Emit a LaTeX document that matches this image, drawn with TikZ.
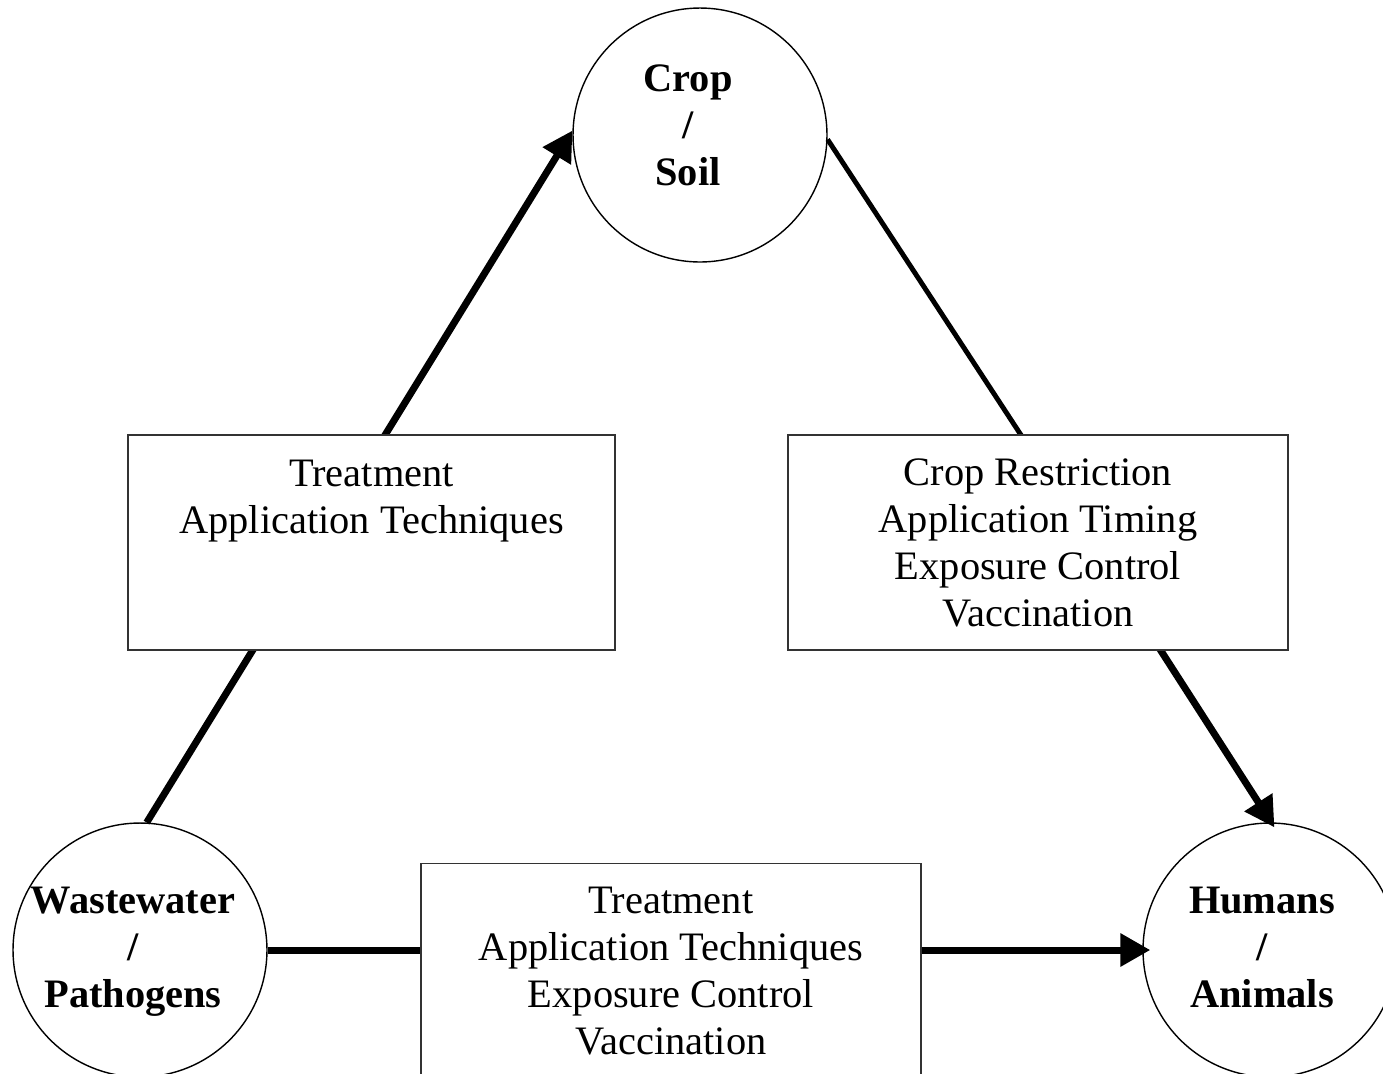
\documentclass[tikz,border=0pt]{standalone}
\usepackage{fontspec}
\setmainfont{Liberation Serif}
\usepackage{tikz}
\usetikzlibrary{shapes, arrows.meta, positioning, calc}

\tikzset{
  circ/.style={draw, circle, line width=0.8pt, minimum size=5.08cm, inner sep=0pt},
  ctext/.style={align=center, inner sep=0pt, font=\fontsize{23}{26.75}\selectfont\bfseries},
  ctrl/.style={draw=black!80, fill=white, line width=1pt, minimum width=10cm, minimum height=4.3cm, align=center, font=\fontsize{23}{26.75}\selectfont},
  flow/.style={line width=4pt, -{Triangle[length=17pt,width=18pt]}},
}

\begin{document}
\begin{tikzpicture}[x=0.02cm, y=-0.02cm]
  \useasboundingbox (0,0) rectangle (1383,1073);
  \clip (0,0) rectangle (1383,1073);

  % The three corners
  \node[circ, label={[ctext, xshift=-0.24cm, yshift=0.2cm]center:{Crop\\/\\Soil}}] (crop) at (700,135) {};
  \node[circ, label={[ctext, xshift=-0.14cm, yshift=-0.04cm]center:{Wastewater\\/\\Pathogens}}] (waste) at (140,950) {};
  \node[circ, label={[ctext, xshift=-0.16cm, yshift=0.06cm]center:{Humans\\/\\Animals}}] (humans) at (1270,950) {};

  % Pathways
  \draw[flow] (waste.87) -- (crop.178);
  \draw[line width=2.8pt] (crop.-2) -- ($(crop.-2)!0.6!(humans.88)$);
  \draw[flow] ($(crop.-2)!0.6!(humans.88)$) -- ($(humans.88)+(0,5)$);
  \draw[flow] (waste.east) -- ($(humans.west)+(8,0)$);

  % Control measures on each pathway
  \node[ctrl, minimum width=9.74cm, text depth=52.6pt] (boxL) at (371.5,542.5) {
    Treatment\\
    Application Techniques
  };

  \node[ctrl] (boxR) at (1038,542.5) {
    Crop Restriction\\
    Application Timing\\
    Exposure Control\\
    Vaccination
  };

  \node[ctrl] (boxB) at (671,971) {
    Treatment\\
    Application Techniques\\
    Exposure Control\\
    Vaccination
  };
\end{tikzpicture}
\end{document}
